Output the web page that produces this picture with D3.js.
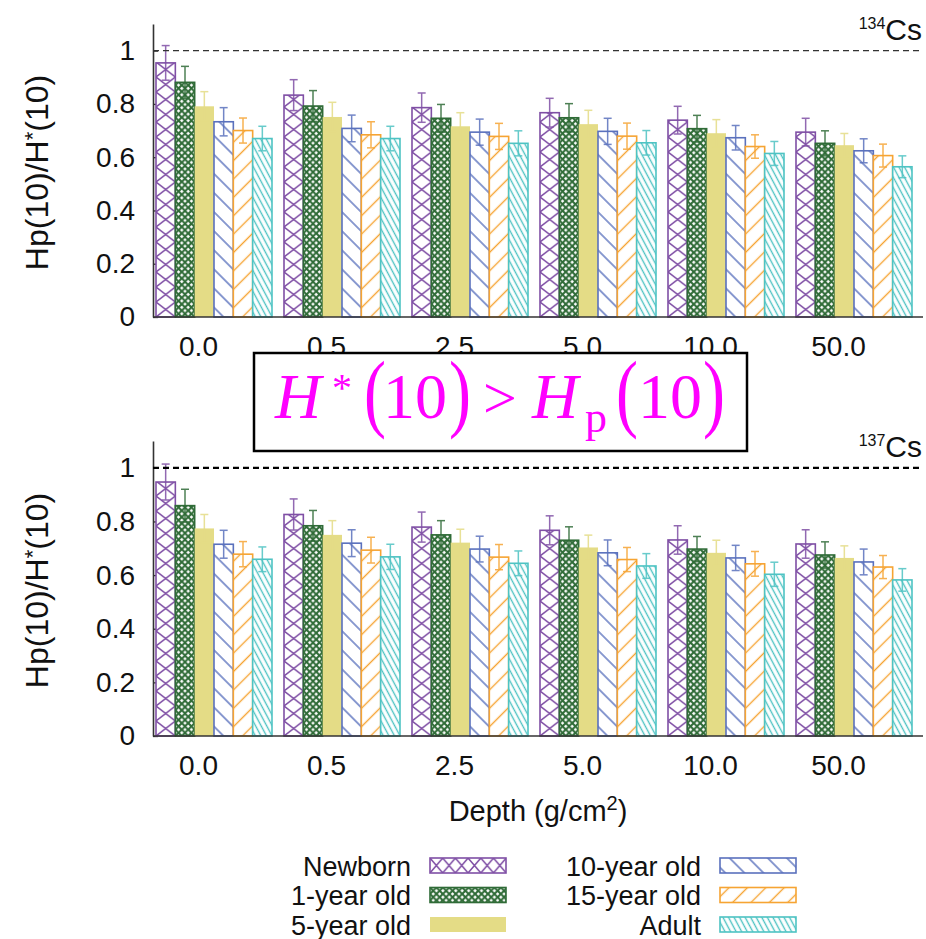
<!DOCTYPE html>
<html><head><meta charset="utf-8">
<script src="https://cdn.jsdelivr.net/npm/d3@7"></script>
<style>body{margin:0;background:#fff} svg text{font-family:"Liberation Sans",Arial,Helvetica,sans-serif}</style>
</head><body><svg id="c" width="926" height="939"></svg>
<script>
// ---------------- DATA ----------------
const categories = ["0.0", "0.5", "2.5", "5.0", "10.0", "50.0"];
const seriesNames = ["Newborn", "1-year old", "5-year old", "10-year old", "15-year old", "Adult"];
const yTickValues = [0, 0.2, 0.4, 0.6, 0.8, 1];
const yTickLabels = ["0", "0.2", "0.4", "0.6", "0.8", "1"];

// 134Cs  (Hp(10)/H*(10))
const newborn134 = [0.954, 0.833, 0.786, 0.767, 0.739, 0.694];
const year1_134  = [0.881, 0.792, 0.746, 0.748, 0.707, 0.652];
const year5_134  = [0.791, 0.751, 0.716, 0.724, 0.690, 0.645];
const year10_134 = [0.733, 0.708, 0.694, 0.697, 0.673, 0.624];
const year15_134 = [0.700, 0.684, 0.678, 0.679, 0.640, 0.606];
const adult134   = [0.670, 0.670, 0.652, 0.654, 0.614, 0.564];
const newborn134Err = [0.065, 0.058, 0.055, 0.054, 0.052, 0.052];
const year1_134Err  = [0.060, 0.058, 0.052, 0.053, 0.050, 0.047];
const year5_134Err  = [0.055, 0.055, 0.051, 0.052, 0.051, 0.044];
const year10_134Err = [0.053, 0.050, 0.049, 0.049, 0.046, 0.045];
const year15_134Err = [0.047, 0.049, 0.049, 0.049, 0.044, 0.043];
const adult134Err   = [0.046, 0.046, 0.047, 0.046, 0.045, 0.041];

// 137Cs
const newborn137 = [0.947, 0.826, 0.779, 0.767, 0.731, 0.716];
const year1_137  = [0.859, 0.784, 0.750, 0.730, 0.697, 0.675];
const year5_137  = [0.774, 0.750, 0.721, 0.703, 0.683, 0.664];
const year10_137 = [0.715, 0.719, 0.697, 0.683, 0.664, 0.649];
const year15_137 = [0.678, 0.693, 0.667, 0.658, 0.642, 0.630];
const adult137   = [0.659, 0.668, 0.644, 0.634, 0.603, 0.582];
const newborn137Err = [0.067, 0.058, 0.056, 0.054, 0.053, 0.053];
const year1_137Err  = [0.061, 0.057, 0.053, 0.050, 0.047, 0.049];
const year5_137Err  = [0.052, 0.053, 0.050, 0.046, 0.047, 0.045];
const year10_137Err = [0.052, 0.050, 0.048, 0.048, 0.047, 0.048];
const year15_137Err = [0.047, 0.048, 0.047, 0.045, 0.046, 0.043];
const adult137Err   = [0.046, 0.047, 0.046, 0.046, 0.045, 0.042];

const values134 = [newborn134, year1_134, year5_134, year10_134, year15_134, adult134];
const errors134 = [newborn134Err, year1_134Err, year5_134Err, year10_134Err, year15_134Err, adult134Err];
const values137 = [newborn137, year1_137, year5_137, year10_137, year15_137, adult137];
const errors137 = [newborn137Err, year1_137Err, year5_137Err, year10_137Err, year15_137Err, adult137Err];

// ---------------- STYLE ----------------
const seriesColors = ["#7f4fa5", "#2f6b37", "#e4dc86", "#5a71bd", "#f6a433", "#4ec3c3"];
const patternKinds = ["cross", "mesh", "solid", "back", "fwd", "dense"];

const svg = d3.select("#c");
const defs = svg.append("defs");

function makePattern(id, kind, color, w) {
  if (kind === "solid") return;
  if (kind === "cross") {
    const h = 15;
    const p = defs.append("pattern").attr("id", id).attr("patternUnits", "userSpaceOnUse")
      .attr("width", w).attr("height", h);
    p.append("rect").attr("width", w).attr("height", h).attr("fill", "#fff");
    p.append("path").attr("d", `M0,0L${w},${h}M0,${h}L${w},0`)
      .attr("stroke", color).attr("stroke-width", 1.5).attr("fill", "none");
  } else if (kind === "mesh") {
    const s = 6.44;
    const p = defs.append("pattern").attr("id", id).attr("patternUnits", "userSpaceOnUse")
      .attr("width", s).attr("height", s);
    p.append("rect").attr("width", s).attr("height", s).attr("fill", "#fff");
    p.append("path").attr("d", `M0,0L${s},${s}M0,${s}L${s},0`)
      .attr("stroke", color).attr("stroke-width", 2.1).attr("fill", "none");
  } else {
    const cfg = {back: [45, 13.5], fwd: [-45, 13], dense: [62, 4.9]}[kind];
    const d = cfg[1];
    const p = defs.append("pattern").attr("id", id).attr("patternUnits", "userSpaceOnUse")
      .attr("width", 10).attr("height", d).attr("patternTransform", `rotate(${cfg[0]})`);
    p.append("rect").attr("width", 10).attr("height", d).attr("fill", "#fff");
    p.append("line").attr("x1", 0).attr("x2", 10).attr("y1", d / 2).attr("y2", d / 2)
      .attr("stroke", color).attr("stroke-width", 1.4);
  }
}

// ---------------- SCALES ----------------
const x = d3.scaleBand().domain(categories).range([150, 918]).paddingInner(0.09375).paddingOuter(0.046875);
const xs = d3.scaleBand().domain(seriesNames).range([0, x.bandwidth()]);
const axisLeftX = 153, axisRightX = 923;

seriesNames.forEach((s, i) => {
  makePattern("bar" + i, patternKinds[i], seriesColors[i], xs.bandwidth());
  makePattern("leg" + i, patternKinds[i], seriesColors[i], 12.7);
});
function fillFor(i, pre) { return patternKinds[i] === "solid" ? seriesColors[i] : `url(#${pre}${i})`; }

function drawChart(yBottom, yTop, values, errors, isoMass, dashW, dashColor) {
  const y = d3.scaleLinear().domain([0, 1.1]).range([yBottom, yTop]);
  const g = svg.append("g");

  // y axis
  const ya = g.append("g").attr("transform", `translate(${axisLeftX},0)`)
    .call(d3.axisLeft(y).tickValues(yTickValues).tickFormat((d, i) => yTickLabels[i])
      .tickSize(-5).tickSizeOuter(0).tickPadding(18));
  ya.attr("font-family", null).attr("font-size", 28);
  ya.selectAll("text").attr("fill", "#111");
  ya.selectAll("line").attr("stroke", "#333").attr("stroke-width", 1.3);
  ya.select(".domain").attr("stroke", "#333").attr("stroke-width", 1.6);

  // bars
  seriesNames.forEach((s, si) => {
    values[si].forEach((v, ci) => {
      const bx = x(categories[ci]) + xs(s);
      const bg = g.append("g").attr("transform", `translate(${bx},${y(0)})`);
      bg.append("rect").attr("x", 0).attr("y", y(v) - y(0))
        .attr("width", xs.bandwidth()).attr("height", y(0) - y(v))
        .attr("fill", fillFor(si, "bar"))
        .attr("stroke", patternKinds[si] === "solid" ? "none" : seriesColors[si])
        .attr("stroke-width", 1.6);
    });
  });
  // error bars
  seriesNames.forEach((s, si) => {
    values[si].forEach((v, ci) => {
      const e = errors[si][ci];
      const cx = x(categories[ci]) + xs(s) + xs.bandwidth() / 2;
      const eg = g.append("g").attr("stroke", seriesColors[si]).attr("stroke-width", 1.5).attr("opacity", 0.85);
      eg.append("line").attr("x1", cx).attr("x2", cx).attr("y1", y(v - e)).attr("y2", y(v + e));
      eg.append("line").attr("x1", cx - 4).attr("x2", cx + 4).attr("y1", y(v - e)).attr("y2", y(v - e));
      eg.append("line").attr("x1", cx - 4).attr("x2", cx + 4).attr("y1", y(v + e)).attr("y2", y(v + e));
    });
  });

  // x axis labels
  const xa = g.append("g").attr("transform", `translate(0,${y(0)})`)
    .call(d3.axisBottom(x).tickSize(0).tickSizeOuter(0));
  xa.attr("font-family", null).attr("font-size", 28);
  xa.select(".domain").remove();
  xa.selectAll("text").attr("fill", "#111").attr("dy", 0).attr("y", 39).attr("dx", -15.5);
  g.append("line").attr("x1", axisLeftX).attr("x2", axisRightX).attr("y1", y(0)).attr("y2", y(0))
    .attr("stroke", "#333").attr("stroke-width", 1.6);

  // reference line at 1
  g.append("line").attr("x1", axisLeftX).attr("x2", axisRightX).attr("y1", y(1)).attr("y2", y(1))
    .attr("stroke", dashColor).attr("stroke-width", dashW).attr("stroke-dasharray", "6,4");

  // y title
  const yt = g.append("text").attr("transform", `translate(48,${(y(0) + y(1.1)) / 2 + 2}) rotate(-90)`)
    .attr("text-anchor", "middle").attr("font-size", 32).attr("fill", "#111");
  yt.append("tspan").text("Hp(10)/H");
  yt.append("tspan").text("*").attr("font-size", 22).attr("dy", -8);
  yt.append("tspan").text("(10)").attr("dy", 8);

  // isotope label
  const it = g.append("text").attr("x", 922).attr("y", y(1) - 11).attr("text-anchor", "end").attr("fill", "#111");
  it.append("tspan").text(isoMass).attr("font-size", 16).attr("dy", -11);
  it.append("tspan").text("Cs").attr("font-size", 30).attr("dy", 11);
  return y;
}

drawChart(317, 24, values134, errors134, "134", 1.3, "#333");
drawChart(736, 441, values137, errors137, "137", 2.2, "#000");

// x title
const xt = svg.append("text").attr("x", 538).attr("y", 821).attr("text-anchor", "middle")
  .attr("font-size", 29).attr("fill", "#111");
xt.append("tspan").text("Depth (g/cm");
xt.append("tspan").text("2").attr("font-size", 20).attr("dy", -11);
xt.append("tspan").text(")").attr("dy", 11);

// Legend
const legCols = [[411, 430], [701, 720]];
const legRows = [858, 887.5, 917];
seriesNames.forEach((s, i) => {
  const col = legCols[Math.floor(i / 3)], row = legRows[i % 3];
  svg.append("text").attr("x", col[0]).attr("y", row + 17.5).attr("text-anchor", "end")
    .attr("font-size", 27).attr("fill", "#111").text(s);
  const lg = svg.append("g").attr("transform", `translate(${col[1]},${row})`);
  lg.append("rect").attr("width", 76).attr("height", 15).attr("fill", fillFor(i, "leg"))
    .attr("stroke", patternKinds[i] === "solid" ? "none" : seriesColors[i]).attr("stroke-width", 1.6);
});

// Annotation box
svg.append("rect").attr("x", 254).attr("y", 353).attr("width", 493).attr("height", 98)
  .attr("fill", "#fff").attr("stroke", "#000").attr("stroke-width", 2.5);
const serif = '"Liberation Serif","Times New Roman",serif';
const pieces = [
  {t: "H", x: 275, y: 418, s: 64, it: true},
  {t: "*", x: 332, y: 401, s: 40},
  {t: "(", x: 364, y: 421, s: 66, sy: 1.3},
  {t: "10", x: 383, y: 418, s: 64},
  {t: ")", x: 449, y: 421, s: 66, sy: 1.3},
  {t: ">", x: 483, y: 418, s: 60},
  {t: "H", x: 532, y: 418, s: 64, it: true},
  {t: "p", x: 585, y: 432, s: 44},
  {t: "(", x: 616, y: 421, s: 66, sy: 1.3},
  {t: "10", x: 638, y: 418, s: 64},
  {t: ")", x: 703, y: 421, s: 66, sy: 1.3}
];
pieces.forEach(p => {
  const t = svg.append("text").attr("font-size", p.s)
    .style("font-family", serif)
    .attr("font-style", p.it ? "italic" : "normal").attr("fill", "#ff00ff").text(p.t);
  if (p.sy) t.attr("transform", `translate(${p.x},${p.y}) scale(1,${p.sy})`);
  else t.attr("x", p.x).attr("y", p.y);
});
</script></body></html>
